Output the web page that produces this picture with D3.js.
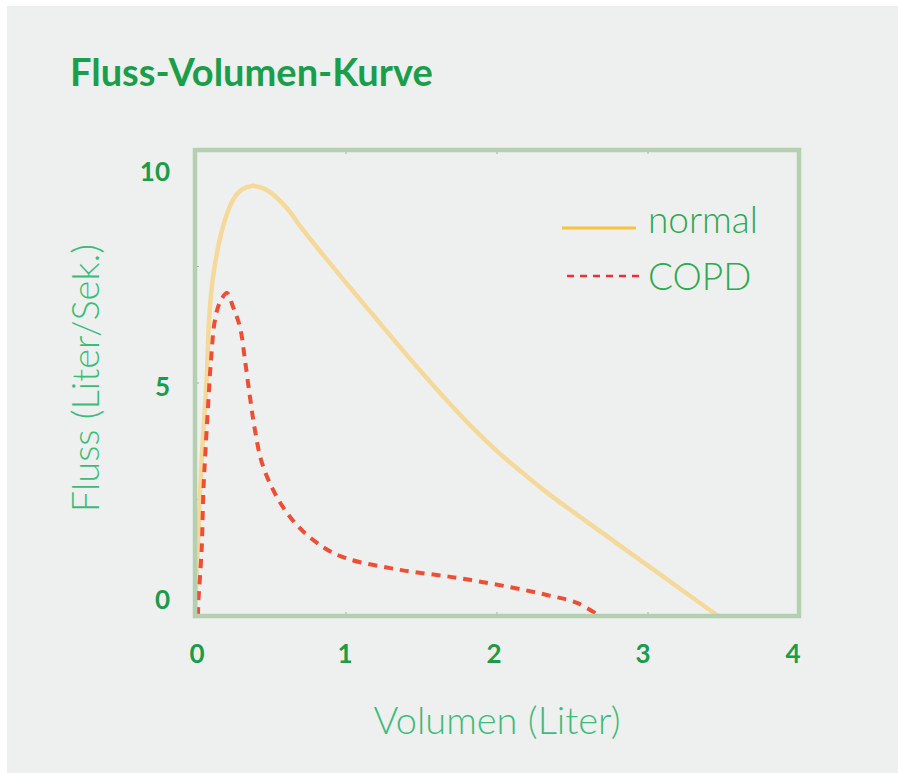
<!DOCTYPE html>
<html>
<head>
<meta charset="utf-8">
<script src="https://cdn.jsdelivr.net/npm/d3@7"></script>
<style>
  html, body { margin: 0; padding: 0; background: #ffffff; }
  svg { display: block; }
</style>
</head>
<body>
<svg id="chart" width="898" height="773"></svg>
<script>
// Values
var normalVol  = [0, 0.02, 0.044, 0.077, 0.093, 0.119, 0.185, 0.252, 0.31, 0.377, 0.464, 0.543, 0.629, 0.695, 0.861, 1.026, 1.192, 1.358, 1.523, 1.689, 1.854, 2.02, 2.185, 2.351, 2.682, 3.013, 3.464];
var normalFlow = [0, 1.6, 3.35, 5.06, 6.35, 7.27, 8.35, 8.93, 9.15, 9.23, 9.16, 8.97, 8.67, 8.37, 7.70, 7.05, 6.41, 5.77, 5.15, 4.55, 3.99, 3.48, 3.03, 2.60, 1.82, 1.05, 0];
var copdVol  = [0.02, 0.022, 0.044, 0.055, 0.066, 0.086, 0.106, 0.132, 0.166, 0.212, 0.252, 0.298, 0.331, 0.364, 0.397, 0.444, 0.543, 0.675, 0.848, 1.0, 1.358, 1.735, 2.086, 2.331, 2.53, 2.68];
var copdFlow = [0, 0.28, 1.42, 2.64, 3.35, 4.48, 5.49, 6.35, 6.74, 6.93, 6.63, 6.20, 5.49, 4.70, 3.99, 3.28, 2.55, 1.95, 1.48, 1.24, 0.99, 0.82, 0.62, 0.45, 0.28, 0];
var xTicks = [0, 1, 2, 3, 4];
var yTicks = [0, 5, 10];
var yMinor = [2.5, 5, 7.5];
var series = [
  {name: "normal", vol: normalVol, flow: normalFlow},
  {name: "COPD", vol: copdVol, flow: copdFlow}
];

var svg = d3.select("#chart");

// grey panel
svg.append("rect")
  .attr("x", 7).attr("y", 6)
  .attr("width", 891).attr("height", 767)
  .attr("fill", "#eef0ef");

var x = d3.scaleLinear().domain([0, 4]).range([195, 799]);
var y = d3.scaleLinear().domain([0, 10]).range([616, 150]);

// title
svg.append("text")
  .attr("x", 70).attr("y", 86)
  .attr("font-family", "Lato, 'Open Sans', sans-serif")
  .attr("font-weight", "bold")
  .attr("font-size", 38)
  .attr("fill", "#1a9e4a")
  .text("Fluss-Volumen-Kurve");

// small tick marks inside the frame
var g = svg.append("g");
g.selectAll(".xt").data([1, 2, 3]).enter().append("line")
  .attr("x1", function(d) { return x(d); }).attr("x2", function(d) { return x(d); })
  .attr("y1", 150).attr("y2", 154)
  .attr("stroke", "#9fb39c").attr("stroke-width", 1);
g.selectAll(".xb").data([1, 2, 3]).enter().append("line")
  .attr("x1", function(d) { return x(d); }).attr("x2", function(d) { return x(d); })
  .attr("y1", 612).attr("y2", 616)
  .attr("stroke", "#9fb39c").attr("stroke-width", 1);
g.selectAll(".yt").data(yMinor).enter().append("line")
  .attr("x1", 195).attr("x2", 199)
  .attr("y1", function(d) { return y(d); }).attr("y2", function(d) { return y(d); })
  .attr("stroke", "#9fb39c").attr("stroke-width", 1);

// curves
var line = d3.line()
  .x(function(d) { return x(d[0]); })
  .y(function(d) { return y(d[1]); })
  .curve(d3.curveCatmullRom.alpha(0.5));

function pts(s) { return s.vol.map(function(v, i) { return [v, s.flow[i]]; }); }

svg.append("path")
  .attr("d", line(pts(series[0])))
  .attr("fill", "none")
  .attr("stroke", "#f5d99b")
  .attr("stroke-width", 4.5)
  .attr("stroke-linecap", "round");

svg.append("path")
  .attr("d", line(pts(series[1])))
  .attr("fill", "none")
  .attr("stroke", "#ef4e35")
  .attr("stroke-width", 4)
  .attr("stroke-dasharray", "9,7");

// frame
svg.append("rect")
  .attr("x", x(0)).attr("y", y(10))
  .attr("width", x(4) - x(0)).attr("height", y(0) - y(10))
  .attr("fill", "none")
  .attr("stroke", "#b5cfb1")
  .attr("stroke-width", 4.5);

// tick labels
var nudgeY = {0: -16, 5: 4, 10: 22};
svg.selectAll(".ylab").data(yTicks).enter().append("text")
  .attr("x", 170)
  .attr("y", function(d) { return y(d) + nudgeY[d]; })
  .attr("dy", "0.36em")
  .attr("text-anchor", "end")
  .attr("font-family", "Lato, 'Open Sans', sans-serif")
  .attr("font-weight", "bold")
  .attr("font-size", 26)
  .attr("fill", "#1a9c48")
  .text(function(d) { return d; });

var nudgeX = {0: 2, 1: -1, 2: -3, 3: -5, 4: -6};
svg.selectAll(".xlab").data(xTicks).enter().append("text")
  .attr("x", function(d) { return x(d) + nudgeX[d]; })
  .attr("y", 654)
  .attr("dy", "0.36em")
  .attr("text-anchor", "middle")
  .attr("font-family", "Lato, 'Open Sans', sans-serif")
  .attr("font-weight", "bold")
  .attr("font-size", 26)
  .attr("fill", "#1a9c48")
  .text(function(d) { return d; });

// axis titles
svg.append("text")
  .attr("x", 497).attr("y", 734)
  .attr("text-anchor", "middle")
  .attr("font-family", "Lato, 'Open Sans', sans-serif")
  .attr("font-weight", 300)
  .attr("font-size", 38)
  .attr("fill", "#3dbb7b")
  .text("Volumen (Liter)");

svg.append("text")
  .attr("transform", "translate(99,378) rotate(-90)")
  .attr("text-anchor", "middle")
  .attr("font-family", "Lato, 'Open Sans', sans-serif")
  .attr("font-weight", 300)
  .attr("font-size", 38)
  .attr("fill", "#3dbb7b")
  .text("Fluss (Liter/Sek.)");

// legend
var legend = svg.append("g");
legend.append("line")
  .attr("x1", 562).attr("x2", 636).attr("y1", 228).attr("y2", 228)
  .attr("stroke", "#f9c23c").attr("stroke-width", 3);
legend.append("line")
  .attr("x1", 567).attr("x2", 643).attr("y1", 276).attr("y2", 276)
  .attr("stroke", "#ee3030").attr("stroke-width", 2.5)
  .attr("stroke-dasharray", "7,6");
legend.selectAll(".lt").data(series).enter().append("text")
  .attr("x", 648)
  .attr("y", function(d, i) { return i === 0 ? 233 : 290; })
  .attr("font-family", "Lato, 'Open Sans', sans-serif")
  .attr("font-weight", 300)
  .attr("font-size", 37)
  .attr("fill", "#2fa84f")
  .text(function(d) { return d.name; });
</script>
</body>
</html>
